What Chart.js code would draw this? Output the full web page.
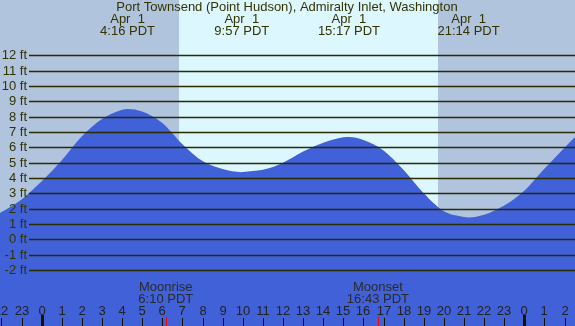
<!DOCTYPE html>
<html>
<head>
<meta charset="utf-8">
<script src="https://cdn.jsdelivr.net/npm/chart.js@4.4.1/dist/chart.umd.min.js"></script>
<style>
    html, body { margin: 0; padding: 0; background: #b0c4de; }
    #wrap { width: 575px; height: 326px; position: relative; }
</style>
</head>
<body>
<div id="wrap"><canvas id="tideChart"></canvas></div>
<script>
const title = 'Port Townsend (Point Hudson), Admiralty Inlet, Washington';

// hours since local midnight, Apr 1, and tide height in feet
const hours = [-3, -2, -1, 0, 1, 2, 3, 4, 5, 6, 7, 8, 9, 10, 11, 12, 13, 14, 15,
    16, 17, 18, 19, 20, 21, 22, 23, 24, 25, 26, 27];
const heights = [1.05, 1.78, 2.6, 3.78, 5.15, 6.72, 7.84, 8.45, 8.33, 7.58, 6.2, 5.1, 4.58, 4.39, 4.53, 5.0,
    5.72, 6.3, 6.65, 6.48, 5.8, 4.52, 3.0, 1.83, 1.46, 1.6, 2.2, 3.17, 4.6, 5.97, 7.3];

// high / low water
const tideTimes = [4.27, 9.95, 15.28, 21.23];
const tideHeights = [8.5, 4.38, 6.67, 1.43];
const tideDates = ['Apr  1', 'Apr  1', 'Apr  1', 'Apr  1'];
const tideLabels = ['4:16 PDT', '9:57 PDT', '15:17 PDT', '21:14 PDT'];

const moonTimes = [6.17, 16.72];
const moonNames = ['Moonrise', 'Moonset'];
const moonLabels = ['6:10 PDT', '16:43 PDT'];

const sunrise = 6.83;
const sunset = 19.69;

const feetTicks = [-2, -1, 0, 1, 2, 3, 4, 5, 6, 7, 8, 9, 10, 11, 12];
const hourTicks = [-2, -1, 0, 1, 2, 3, 4, 5, 6, 7, 8, 9, 10, 11, 12, 13, 14, 15, 16, 17, 18, 19, 20,
    21, 22, 23, 24, 25, 26];

const FONT = '13px "Liberation Sans", Arial, sans-serif';

const points = hours.map((h, i) => ({ x: h, y: heights[i] }))
    .concat(tideTimes.map((t, i) => ({ x: t, y: tideHeights[i] })))
    .sort((a, b) => a.x - b.x);

const tidePlugin = {
    id: 'tideDecor',
    beforeDatasetsDraw(chart) {
        const ctx = chart.ctx;
        const x = chart.scales.x;
        const area = chart.chartArea;
        ctx.save();
        ctx.fillStyle = '#b0c4de';
        ctx.fillRect(area.left, area.top, area.right - area.left, area.bottom - area.top);
        const x1 = Math.round(x.getPixelForValue(sunrise));
        const x2 = Math.round(x.getPixelForValue(sunset));
        ctx.fillStyle = '#ddf7fe';
        ctx.fillRect(x1, area.top, x2 - x1, area.bottom - area.top);
        ctx.restore();
    },
    afterDatasetsDraw(chart) {
        const ctx = chart.ctx;
        const x = chart.scales.x;
        const y = chart.scales.y;
        const area = chart.chartArea;
        ctx.save();
        ctx.font = FONT;

        // horizontal feet lines
        feetTicks.forEach(v => {
            const py = Math.round(y.getPixelForValue(v)) + 0.5;
            ctx.strokeStyle = '#2b2b00';
            ctx.lineWidth = 1.3;
            ctx.beginPath();
            ctx.moveTo(29, py);
            ctx.lineTo(area.right, py);
            ctx.stroke();
            ctx.fillStyle = '#333300';
            ctx.textAlign = 'right';
            ctx.textBaseline = 'middle';
            ctx.fillText(v + ' ft', 27, py);
        });

        // title and high/low times
        ctx.fillStyle = '#333300';
        ctx.textAlign = 'center';
        ctx.textBaseline = 'middle';
        ctx.fillText(title, 287, 7);
        tideTimes.forEach((t, i) => {
            const px = x.getPixelForValue(t);
            ctx.fillText(tideDates[i], px, 19.5);
            ctx.fillText(tideLabels[i], px, 31);
        });

        // moon rise/set
        ctx.fillStyle = '#2a2a2a';
        moonTimes.forEach((t, i) => {
            const px = x.getPixelForValue(t);
            ctx.fillText(moonNames[i], px, 287);
            ctx.fillText(moonLabels[i], px, 299);
            ctx.fillStyle = '#ff0000';
            ctx.fillRect(Math.round(px), 317, 1, 9);
            ctx.fillStyle = '#2a2a2a';
        });

        // hour labels and ticks
        hourTicks.forEach(h => {
            const px = Math.round(x.getPixelForValue(h));
            const lab = ((h % 24) + 24) % 24;
            ctx.fillStyle = '#222222';
            ctx.fillText(String(lab), px, 311);
            ctx.fillStyle = '#111100';
            if (lab === 0) {
                ctx.fillRect(px - 1, 315, 3, 11);
            } else {
                ctx.fillRect(px, 318, 1, 8);
            }
        });
        ctx.restore();
    }
};

new Chart(document.getElementById('tideChart').getContext('2d'), {
    type: 'line',
    data: {
        datasets: [{
            data: points,
            backgroundColor: '#4161d8',
            borderWidth: 0,
            pointRadius: 0,
            fill: 'start',
            cubicInterpolationMode: 'monotone'
        }]
    },
    options: {
        responsive: true,
        maintainAspectRatio: false,
        animation: false,
        layout: { padding: 0 },
        plugins: {
            legend: { display: false },
            tooltip: { enabled: false }
        },
        scales: {
            x: { type: 'linear', display: false, min: -2.074, max: 26.522 },
            y: { type: 'linear', display: false, min: -5.651, max: 15.606 }
        }
    },
    plugins: [tidePlugin]
});
</script>
</body>
</html>
